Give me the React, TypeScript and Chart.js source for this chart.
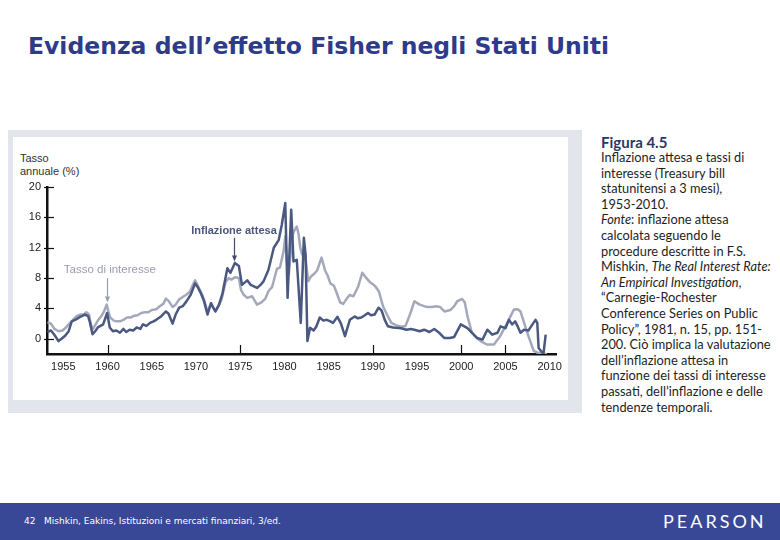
import React, { useEffect, useRef } from "react";
import { Chart, registerables } from "chart.js";

Chart.register(...registerables);

// ---- Data ----
const inflationYears = [
  1953.2, 1953.6, 1954.0, 1954.45, 1954.8, 1955.2, 1955.6, 1955.95, 1956.5, 1956.9,
  1957.45, 1957.8, 1958.0, 1958.3, 1958.6, 1958.9, 1959.5, 1959.95, 1960.25, 1960.6,
  1961.0, 1961.4, 1961.8, 1962.1, 1962.5, 1962.9, 1963.3, 1963.7, 1964.0, 1964.4,
  1964.8, 1965.2, 1965.5, 1966.0, 1966.6, 1966.9, 1967.35, 1967.7, 1968.1, 1968.5,
  1968.9, 1969.4, 1969.9, 1970.2, 1970.55, 1970.9, 1971.3, 1971.7, 1972.0, 1972.2,
  1972.6, 1973.0, 1973.55, 1973.9, 1974.4, 1974.85, 1975.2, 1975.8, 1976.2, 1976.9,
  1977.3, 1977.65, 1978.2, 1978.8, 1979.35, 1979.7, 1980.1, 1980.36, 1980.77, 1981.03,
  1981.4, 1981.85, 1982.2, 1982.4, 1982.6, 1982.9, 1983.3, 1983.6, 1984.0, 1984.4,
  1984.8, 1985.2, 1985.5, 1986.0, 1986.4, 1986.85, 1987.4, 1987.95, 1988.3, 1988.7,
  1989.1, 1989.45, 1989.8, 1990.2, 1990.65, 1991.0, 1991.35, 1991.7, 1992.3, 1993.2,
  1993.8, 1994.3, 1994.7, 1995.3, 1995.8, 1996.4, 1996.95, 1997.5, 1998.1, 1998.7,
  1999.2, 1999.95, 2000.4, 2000.7, 2001.2, 2001.8, 2002.4, 2002.95, 2003.5, 2004.1,
  2004.45, 2005.0, 2005.4, 2005.75, 2006.1, 2006.4, 2006.7, 2007.1, 2007.6, 2008.0,
  2008.4, 2008.6, 2008.75, 2009.3, 2009.55,
];
const expectedInflation = [
  0.9, 1.1, 0.5, -0.3, 0.0, 0.4, 1.0, 2.3, 2.6, 2.9,
  3.2, 3.0, 2.2, 0.6, 1.0, 1.5, 1.9, 3.4, 1.5, 1.0,
  1.1, 0.8, 1.3, 0.9, 1.2, 1.1, 1.5, 1.3, 1.9, 1.7,
  2.1, 2.3, 2.5, 2.9, 3.6, 3.3, 2.0, 3.2, 4.1, 4.3,
  4.9, 5.8, 7.3, 6.8, 6.0, 5.0, 3.2, 4.7, 4.0, 3.6,
  4.5, 6.0, 9.3, 8.7, 10.0, 9.6, 7.1, 7.7, 7.1, 6.7,
  7.1, 7.6, 9.1, 12.0, 13.0, 15.0, 17.9, 5.4, 17.0, 10.2,
  10.4, 2.1, 13.3, 11.0, -0.3, 1.45, 1.1, 1.6, 2.8, 2.4,
  2.5, 2.3, 2.1, 2.9, 2.0, 0.35, 2.5, 2.95, 2.7, 2.8,
  3.1, 3.4, 3.1, 3.2, 4.1, 3.7, 2.5, 1.65, 1.5, 1.4,
  1.2, 1.3, 1.2, 1.0, 1.2, 0.9, 1.3, 0.8, 0.1, 0.1,
  0.25, 1.9, 1.6, 1.4, 0.8, 0.1, -0.1, 1.2, 0.55, 0.8,
  1.65, 1.4, 2.5, 1.9, 2.3, 1.6, 0.8, 1.2, 1.1, 1.8,
  2.5, 2.1, -1.2, -2.0, 0.55,
];

const interestYears = [
  1953.2, 1953.6, 1954.0, 1954.45, 1954.9, 1955.3, 1955.75, 1956.1, 1956.5, 1956.9,
  1957.3, 1957.6, 1957.9, 1958.1, 1958.3, 1958.6, 1958.9, 1959.3, 1959.6, 1959.9,
  1960.1, 1960.3, 1960.7, 1961.0, 1961.4, 1961.8, 1962.2, 1962.6, 1962.9, 1963.4,
  1963.8, 1964.2, 1964.6, 1965.0, 1965.5, 1965.9, 1966.3, 1966.6, 1966.9, 1967.35,
  1967.7, 1968.1, 1968.5, 1968.9, 1969.3, 1969.6, 1969.9, 1970.2, 1970.55, 1970.9,
  1971.3, 1971.7, 1972.0, 1972.2, 1972.6, 1972.9, 1973.35, 1973.7, 1974.0, 1974.4,
  1974.85, 1975.1, 1975.4, 1975.8, 1976.35, 1976.9, 1977.4, 1977.85, 1978.2, 1978.6,
  1979.15, 1979.5, 1979.9, 1980.1, 1980.35, 1980.5, 1980.8, 1981.0, 1981.4, 1981.6,
  1981.8, 1982.0, 1982.3, 1982.5, 1982.7, 1983.0, 1983.3, 1983.7, 1984.2, 1984.6,
  1984.9, 1985.2, 1985.6, 1985.9, 1986.3, 1986.65, 1987.0, 1987.4, 1987.8, 1988.35,
  1988.8, 1989.2, 1989.65, 1990.0, 1990.3, 1990.7, 1991.15, 1991.6, 1992.1, 1992.6,
  1993.2, 1993.7, 1994.2, 1994.7, 1995.3, 1995.8, 1996.2, 1996.7, 1997.15, 1997.6,
  1998.1, 1998.8, 1999.2, 1999.55, 2000.1, 2000.4, 2000.7, 2001.2, 2001.7, 2002.2,
  2002.9, 2003.7, 2004.4, 2005.2, 2005.95, 2006.4, 2006.7, 2007.25, 2007.6, 2008.2,
  2008.6, 2009.3, 2009.7,
];
const interestRate = [
  2.2, 2.0, 1.3, 1.0, 1.1, 1.5, 2.1, 2.5, 3.0, 3.2,
  3.2, 3.5, 3.2, 2.0, 1.2, 1.8, 2.4, 3.0, 3.6, 4.5,
  3.6, 2.8, 2.4, 2.3, 2.3, 2.5, 2.8, 2.8, 3.0, 3.1,
  3.4, 3.5, 3.5, 3.8, 3.9, 4.3, 4.6, 5.3, 5.0, 4.2,
  4.5, 5.2, 5.5, 5.8, 6.2, 7.0, 7.7, 7.0, 6.2, 5.2,
  3.6, 4.6, 4.0, 3.6, 4.4, 5.2, 7.5, 8.0, 7.8, 8.1,
  8.0, 6.4, 5.8, 5.4, 5.6, 4.5, 4.8, 5.3, 6.3, 6.8,
  9.2, 9.4, 11.5, 13.5, 9.0, 8.5, 12.5, 14.0, 14.8, 13.8,
  12.0, 11.1, 11.5, 9.5, 7.6, 8.2, 8.5, 9.0, 10.7, 9.0,
  8.3, 7.3, 7.0, 6.1, 4.8, 4.6, 5.2, 5.8, 5.6, 6.9,
  8.7, 8.1, 7.5, 7.2, 6.9, 6.2, 4.3, 3.2, 2.1, 1.8,
  1.6, 1.7, 3.2, 4.95, 4.5, 4.3, 4.2, 4.2, 4.3, 4.2,
  3.6, 3.8, 4.3, 4.95, 5.25, 4.8, 3.0, 0.8, 0.2, -0.3,
  -0.75, -0.75, 0.35, 2.1, 3.85, 3.9, 3.6, 1.6, 0.35, -1.6,
  -1.8, -2.0, -2.0,
];

const xTickYears = [1955, 1960, 1965, 1970, 1975, 1980, 1985, 1990, 1995, 2000, 2005, 2010];
const xTickMarkYears = [1960, 1975, 1990, 2000, 2005];
const yTickValues = [0, 4, 8, 12, 16, 20];

const seriesLabels = ["Inflazione attesa", "Tasso di interesse"];

const DARK = "#4b5981";
const LIGHT = "#a4a8bb";

const overlayPlugin = {
  id: "fisherOverlay",
  afterDatasetsDraw(chart: any) {
    const { ctx } = chart;
    const x = chart.scales.x;
    const y = chart.scales.y;
    ctx.save();
    // inward tick marks
    ctx.strokeStyle = "#111";
    ctx.lineWidth = 1.2;
    xTickMarkYears.forEach((v) => {
      const px = Math.round(x.getPixelForValue(v)) + 0.5;
      ctx.beginPath();
      ctx.moveTo(px, y.bottom);
      ctx.lineTo(px, y.bottom - 9);
      ctx.stroke();
    });
    yTickValues.forEach((v) => {
      const py = Math.round(y.getPixelForValue(v)) + 0.5;
      ctx.beginPath();
      ctx.moveTo(x.left - 3, py);
      ctx.lineTo(x.left + 7, py);
      ctx.stroke();
    });

    const arrow = (color: string, xv: number, y1: number, y2: number) => {
      const px = Math.round(x.getPixelForValue(xv)) + 0.5;
      const p1 = y.getPixelForValue(y1);
      const p2 = y.getPixelForValue(y2);
      ctx.strokeStyle = color;
      ctx.fillStyle = color;
      ctx.lineWidth = 1.2;
      ctx.beginPath();
      ctx.moveTo(px, p1);
      ctx.lineTo(px, p2 - 4);
      ctx.stroke();
      ctx.beginPath();
      ctx.moveTo(px - 2.5, p2 - 6);
      ctx.lineTo(px + 2.5, p2 - 6);
      ctx.lineTo(px, p2);
      ctx.closePath();
      ctx.fill();
    };

    ctx.textAlign = "center";
    ctx.textBaseline = "middle";
    // Tasso di interesse
    ctx.fillStyle = "#9a9eb2";
    ctx.font = '11.5px "Liberation Sans", Arial, sans-serif';
    ctx.fillText(seriesLabels[1], x.getPixelForValue(1960.25), y.getPixelForValue(9.1));
    arrow("#9a9eb2", 1959.9, 8.0, 4.8);
    // Inflazione attesa
    ctx.fillStyle = "#4a567e";
    ctx.font = 'bold 11px "Liberation Sans", Arial, sans-serif';
    ctx.fillText(seriesLabels[0], x.getPixelForValue(1974.3), y.getPixelForValue(14.25));
    arrow("#3f4a6e", 1974.35, 13.3, 10.2);
    ctx.restore();
  },
};

function FisherChart() {
  const ref = useRef<HTMLCanvasElement | null>(null);
  useEffect(() => {
    if (!ref.current) return;
    const tickFont = { family: '"Liberation Sans", Arial, sans-serif', size: 11 };
    const chart = new Chart(ref.current, {
      type: "line",
      data: {
        datasets: [
          {
            label: seriesLabels[0],
            data: inflationYears.map((yr, i) => ({ x: yr, y: expectedInflation[i] })),
            borderColor: DARK,
            borderWidth: 2.5,
            pointRadius: 0,
            tension: 0,
            borderJoinStyle: "round",
          },
          {
            label: seriesLabels[1],
            data: interestYears.map((yr, i) => ({ x: yr, y: interestRate[i] })),
            borderColor: LIGHT,
            borderWidth: 2.5,
            pointRadius: 0,
            tension: 0,
            borderJoinStyle: "round",
          },
        ],
      },
      options: {
        animation: false,
        responsive: true,
        maintainAspectRatio: false,
        layout: { padding: { top: 50, right: 8, left: 0, bottom: 0 } },
        plugins: { legend: { display: false }, tooltip: { enabled: false } },
        scales: {
          x: {
            type: "linear",
            min: 1953.15,
            max: 2010.75,
            grid: { display: false, drawTicks: false },
            border: { display: true, color: "#111", width: 2.5 },
            afterBuildTicks: (s: any) => {
              s.ticks = xTickYears.map((v) => ({ value: v }));
            },
            afterFit: (s: any) => {
              s.height = 46;
            },
            ticks: {
              color: "#222",
              font: tickFont,
              padding: 6,
              maxRotation: 0,
              autoSkip: false,
              callback: (v: any) => String(v),
            },
          },
          y: {
            type: "linear",
            min: -2,
            max: 20,
            grid: { display: false, drawTicks: false },
            border: { display: true, color: "#111", width: 2.5 },
            afterBuildTicks: (s: any) => {
              s.ticks = yTickValues.map((v) => ({ value: v }));
            },
            afterFit: (s: any) => {
              s.width = 34;
            },
            ticks: {
              color: "#222",
              font: tickFont,
              padding: 6,
              callback: (v: any) => String(v),
            },
          },
        },
      },
      plugins: [overlayPlugin],
    } as any);
    return () => chart.destroy();
  }, []);
  return <canvas ref={ref} />;
}

const noteLines: React.ReactNode[] = [
  "Inflazione attesa e tassi di",
  "interesse (Treasury bill",
  "statunitensi a 3 mesi),",
  "1953-2010.",
  <><i>Fonte</i>: inflazione attesa</>,
  "calcolata seguendo le",
  "procedure descritte in F.S.",
  <>Mishkin, <i>The Real Interest Rate:</i></>,
  <><i>An Empirical Investigation</i>,</>,
  "“Carnegie-Rochester",
  "Conference Series on Public",
  "Policy”, 1981, n. 15, pp. 151-",
  "200. Ciò implica la valutazione",
  "dell’inflazione attesa in",
  "funzione dei tassi di interesse",
  "passati, dell’inflazione e delle",
  "tendenze temporali.",
];

export default function App() {
  return (
    <div
      style={{
        position: "fixed",
        left: 0,
        top: 0,
        width: 780,
        height: 540,
        background: "#ffffff",
        overflow: "hidden",
      }}
    >
      <div
        style={{
          position: "absolute",
          left: 28,
          top: 32,
          fontFamily: '"DejaVu Sans", Verdana, sans-serif',
          fontWeight: "bold",
          fontSize: 23.5,
          lineHeight: "28px",
          color: "#2e3a8a",
          whiteSpace: "nowrap",
        }}
      >
        Evidenza dell’effetto Fisher negli Stati Uniti
      </div>

      <div
        style={{
          position: "absolute",
          left: 8,
          top: 130,
          width: 574,
          height: 283,
          background: "#e3e5ed",
        }}
      />
      <div
        style={{
          position: "absolute",
          left: 13,
          top: 137,
          width: 555,
          height: 263,
          background: "#ffffff",
        }}
      >
        <div
          style={{
            position: "absolute",
            left: 7,
            top: 15,
            fontFamily: '"Liberation Sans", Arial, sans-serif',
            fontSize: 11,
            lineHeight: "13px",
            color: "#333",
            whiteSpace: "nowrap",
          }}
        >
          Tasso
          <br />
          annuale (%)
        </div>
        <div style={{ position: "absolute", left: 0, top: 0, width: 555, height: 263 }}>
          <FisherChart />
        </div>
      </div>

      <div
        style={{
          position: "absolute",
          left: 601,
          top: 133,
          fontFamily: "Lato, sans-serif",
          fontWeight: "bold",
          fontSize: 15,
          lineHeight: "19px",
          color: "#2c3766",
          whiteSpace: "nowrap",
        }}
      >
        Figura 4.5
      </div>
      <div
        style={{
          position: "absolute",
          left: 601,
          top: 150,
          fontFamily: "Lato, sans-serif",
          fontSize: 12.8,
          lineHeight: "15.6px",
          color: "#1e1e1e",
          whiteSpace: "nowrap",
        }}
      >
        {noteLines.map((l, i) => (
          <div key={i}>{l}</div>
        ))}
      </div>

      <div
        style={{
          position: "absolute",
          left: 0,
          top: 503,
          width: 780,
          height: 37,
          background: "#394896",
        }}
      >
        <div
          style={{
            position: "absolute",
            left: 24,
            top: 12,
            fontFamily: '"DejaVu Sans", Verdana, sans-serif',
            fontSize: 9,
            lineHeight: "12px",
            color: "#ffffff",
            whiteSpace: "nowrap",
          }}
        >
          42&nbsp;&nbsp;&nbsp;Mishkin, Eakins, Istituzioni e mercati finanziari, 3/ed.
        </div>
        <div
          style={{
            position: "absolute",
            left: 663,
            top: 6,
            fontFamily: "Lato, sans-serif",
            fontSize: 18,
            lineHeight: "24px",
            letterSpacing: 3,
            color: "#ffffff",
            whiteSpace: "nowrap",
          }}
        >
          PEARSON
        </div>
      </div>
    </div>
  );
}
